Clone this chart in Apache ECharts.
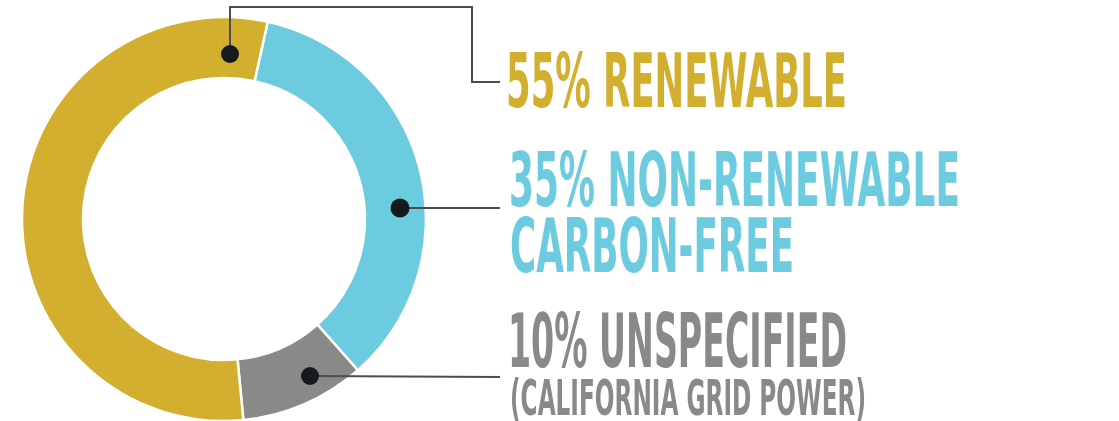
<!DOCTYPE html>
<html>
<head>
    <meta charset="utf-8">
    <title>Power mix</title>
    <script src="https://cdn.jsdelivr.net/npm/echarts@6/dist/echarts.min.js"></script>
    <style>
        html, body { margin: 0; padding: 0; background: #fff; }
        #main { width: 1119px; height: 421px; }
    </style>
</head>
<body>
    <div id="main"></div>
    <script type="text/javascript">
        // data, in drawing order (clockwise from the top)
        var categories = ['NON-RENEWABLE', 'UNSPECIFIED', 'RENEWABLE'];
        var shares = [35, 10, 55];
        var firstLines = ['NON-RENEWABLE', 'UNSPECIFIED', 'RENEWABLE'];
        var secondLines = ['CARBON-FREE', '(CALIFORNIA GRID POWER)', ''];

        var colors = ['#6ccbdf', '#898a87', '#d2af2e'];
        var FONT = "'Liberation Sans Narrow', 'DejaVu Sans Condensed', 'Liberation Sans', sans-serif";

        var ctx = document.createElement('canvas').getContext('2d');
        function fitText(str, size, x, yTop, width, capH, color) {
            var font = 'bold ' + size + 'px ' + FONT;
            ctx.font = font;
            var w = ctx.measureText(str).width;
            return {
                type: 'text',
                x: x,
                y: yTop + capH + 0.235 * size,
                scaleX: width / w,
                silent: true,
                z: 100,
                style: {
                    text: str,
                    x: 0, y: 0,
                    font: font,
                    fill: color,
                    textAlign: 'left',
                    textVerticalAlign: 'bottom'
                }
            };
        }

        var pieData = [];
        for (var i = 0; i < categories.length; i++) {
            pieData.push({ name: categories[i], value: shares[i] });
        }

        function leader(points) {
            return { type: 'polyline', silent: true, z: 100, shape: { points: points },
                style: { stroke: '#4d4d4d', lineWidth: 2, fill: null } };
        }
        function dot(cx, cy, r) {
            return { type: 'circle', silent: true, z: 101, shape: { cx: cx, cy: cy, r: r },
                style: { fill: '#141b1d' } };
        }

        var graphics = [
            leader([[230, 54], [230, 7], [472, 7], [472, 82], [500, 82]]),
            leader([[400, 208], [500, 208]]),
            leader([[310, 376], [500, 377]]),
            dot(230, 54, 9),
            dot(400, 208, 9.5),
            dot(310, 376, 9),

            fitText(shares[2] + '% ' + firstLines[2], 74, 506, 53, 341, 54, colors[2]),
            fitText(shares[0] + '% ' + firstLines[0], 74, 509, 152, 451, 54, colors[0]),
            fitText(secondLines[0], 74, 510, 218, 284, 54, colors[0]),
            fitText(shares[1] + '% ' + firstLines[1], 74, 508, 313, 339, 54, colors[1]),
            fitText(secondLines[1], 50, 510, 378, 356, 37, colors[1])
        ];

        var myChart = echarts.init(document.getElementById('main'));

        var option = {
            animation: false,
            color: colors,
            series: [{
                type: 'pie',
                center: [224, 219],
                radius: [141, 202],
                startAngle: 77.5,
                clockwise: true,
                silent: true,
                label: { show: false },
                labelLine: { show: false },
                itemStyle: { borderColor: '#fff', borderWidth: 2.5 },
                data: pieData
            }],
            graphic: graphics
        };

        myChart.setOption(option);
    </script>
</body>
</html>
